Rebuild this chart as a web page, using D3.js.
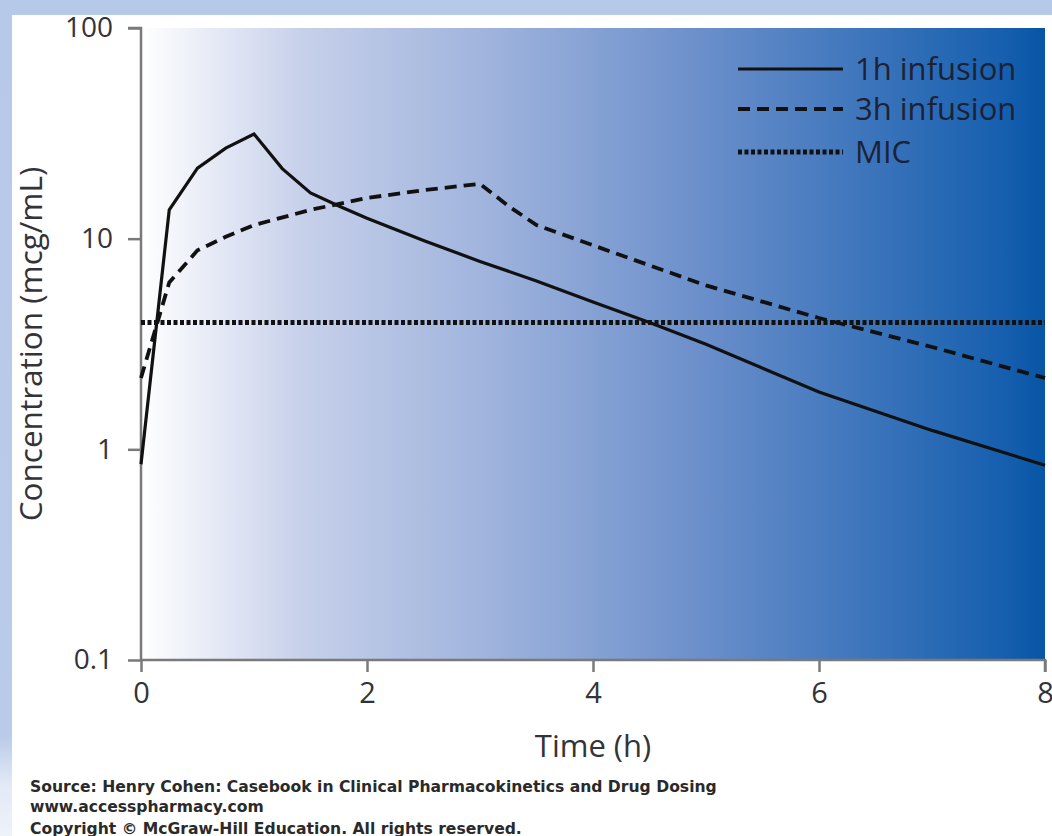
<!DOCTYPE html>
<html><head><meta charset="utf-8">
<script src="https://cdn.jsdelivr.net/npm/d3@7"></script>
<style>
html,body{margin:0;padding:0;background:#fff;}
svg{display:block;}
</style></head>
<body>
<script>
// ---- data ----
const times1h = [0, 0.25, 0.5, 0.75, 1, 1.25, 1.5, 1.75, 2, 2.5, 3, 3.5, 4, 4.5, 5, 6, 7, 8];
const conc1h  = [0.85, 13.7, 21.6, 26.9, 31.4, 21.5, 16.5, 14.3, 12.5, 9.8, 7.8, 6.3, 5.0, 4.0, 3.15, 1.87, 1.23, 0.84];
const times3h = [0, 0.25, 0.5, 0.75, 1, 1.5, 2, 2.5, 3, 3.25, 3.5, 4, 5, 6, 7, 8];
const conc3h  = [2.18, 6.2, 8.8, 10.2, 11.6, 13.7, 15.6, 17.0, 18.2, 14.3, 11.6, 9.3, 6.0, 4.2, 3.06, 2.18];
const micValue = 4;
const xTicks = [0, 2, 4, 6, 8];
const yTicks = [100, 10, 1, 0.1];
const legendLabels = ["1h infusion", "3h infusion", "MIC"];
const sourceLines = [
  "Source: Henry Cohen: Casebook in Clinical Pharmacokinetics and Drug Dosing",
  "www.accesspharmacy.com",
  "Copyright \u00A9 McGraw-Hill Education.  All rights reserved."
];

(function () {
const W = 1052, H = 836;
const svg = d3.select("body").append("svg").attr("width", W).attr("height", H);

// outer frame
const defs = svg.append("defs");
const sideGrad = defs.append("linearGradient").attr("id", "side").attr("x1", "0%").attr("x2", "0%").attr("y1", "0%").attr("y2", "100%");
[["0%", "#b7c9e8"], ["88%", "#b9cbe9"], ["94%", "#e3eaf6"], ["100%", "#eef2f9"]]
  .forEach(([o, c]) => sideGrad.append("stop").attr("offset", o).attr("stop-color", c));
svg.append("rect").attr("width", W).attr("height", H).attr("fill", "url(#side)");
svg.append("rect").attr("width", W).attr("height", 15).attr("fill", "#b7c9e8");
svg.append("rect").attr("x", 12).attr("y", 15).attr("width", W - 12).attr("height", H - 15).attr("fill", "#ffffff");

const pL = 141, pR = 1045, pT = 28, pB = 660;
const x = d3.scaleLinear().domain([0, 8]).range([pL, pR]);
const y = d3.scaleLog().domain([0.1, 100]).range([pB, pT]);

const grad = defs.append("linearGradient").attr("id", "bg").attr("x1", "0%").attr("x2", "100%").attr("y1", "0%").attr("y2", "0%");
[["0%", "#ffffff"], ["18%", "#c6d0ea"], ["38%", "#a0b4dd"], ["62%", "#6b8fcb"], ["95%", "#1760af"], ["100%", "#0855a5"]]
  .forEach(([o, c]) => grad.append("stop").attr("offset", o).attr("stop-color", c));

svg.append("rect").attr("x", pL).attr("y", pT).attr("width", pR - pL).attr("height", pB - pT)
  .attr("fill", "url(#bg)");

const font = "'Open Sans', 'Lato', sans-serif";
const axisColor = "#7a7a7a";
const textColor = "#333338";

// y axis
const yAxis = d3.axisLeft(y).tickValues(yTicks).tickSize(13).tickPadding(15)
  .tickFormat(d => d >= 1 ? d3.format("d")(d) : String(d));
const gy = svg.append("g").attr("transform", `translate(${pL},0)`).call(yAxis);
gy.select(".domain").attr("stroke", axisColor).attr("stroke-width", 2.5).attr("d", `M-13,${pT}H0V${pB}`);
gy.selectAll(".tick line").attr("stroke", axisColor).attr("stroke-width", 2.5);
gy.selectAll(".tick text").attr("fill", textColor).style("font-family", font).style("font-size", "28px")
  .attr("dy", "0.32em");

// x axis
const xAxis = d3.axisBottom(x).tickValues(xTicks).tickSize(12).tickPadding(10).tickFormat(d3.format("d"));
const gx = svg.append("g").attr("transform", `translate(0,${pB})`).call(xAxis);
gx.select(".domain").attr("stroke", axisColor).attr("stroke-width", 2.5).attr("d", `M${pL},0H${pR}V12`);
gx.selectAll(".tick line").attr("stroke", axisColor).attr("stroke-width", 2.5);
gx.selectAll(".tick text").attr("fill", textColor).style("font-family", font).style("font-size", "29px");

// axis titles
svg.append("text").attr("x", (pL + pR) / 2).attr("y", 757).attr("text-anchor", "middle")
  .attr("fill", textColor).style("font-family", font).style("font-size", "31px").text("Time (h)");
svg.append("text").attr("transform", `translate(42,${(pT + pB) / 2}) rotate(-90)`).attr("text-anchor", "middle")
  .attr("fill", textColor).style("font-family", font).style("font-size", "31.5px").text("Concentration (mcg/mL)");

// lines
const line = d3.line().x(d => x(d[0])).y(d => y(d[1]));
const styles = [
  { stroke: "#111", width: 3.2, dash: null },
  { stroke: "#111", width: 3.8, dash: "12,7" },
  { stroke: "#111", width: 5, dash: "4,2.5" }
];
svg.append("path").datum(d3.zip(times1h, conc1h)).attr("d", line)
  .attr("fill", "none").attr("stroke", styles[0].stroke).attr("stroke-width", styles[0].width).attr("stroke-linejoin", "miter");
svg.append("path").datum(d3.zip(times3h, conc3h)).attr("d", line)
  .attr("fill", "none").attr("stroke", styles[1].stroke).attr("stroke-width", styles[1].width).attr("stroke-dasharray", styles[1].dash);
svg.append("path").datum([[0, micValue], [8, micValue]]).attr("d", line)
  .attr("fill", "none").attr("stroke", styles[2].stroke).attr("stroke-width", styles[2].width).attr("stroke-dasharray", styles[2].dash);

// legend
const legendY = [69, 109, 152];
legendLabels.forEach((lab, i) => {
  const s = styles[i];
  svg.append("line").attr("x1", 738).attr("x2", 843).attr("y1", legendY[i]).attr("y2", legendY[i])
    .attr("stroke", s.stroke).attr("stroke-width", s.width).attr("stroke-dasharray", s.dash);
  svg.append("text").attr("x", 855).attr("y", legendY[i]).attr("dy", "0.35em")
    .attr("fill", "#1c2233").style("font-family", font).style("font-size", "31px").text(lab);
});

// source
const srcY = [792, 812, 834];
sourceLines.forEach((t, i) => {
  svg.append("text").attr("x", 30).attr("y", srcY[i]).attr("fill", "#2a2a2a")
    .style("font-family", "'DejaVu Sans', Verdana, sans-serif").style("font-weight", "bold")
    .style("font-size", "15.6px").text(t);
});
})();
</script>
</body></html>
